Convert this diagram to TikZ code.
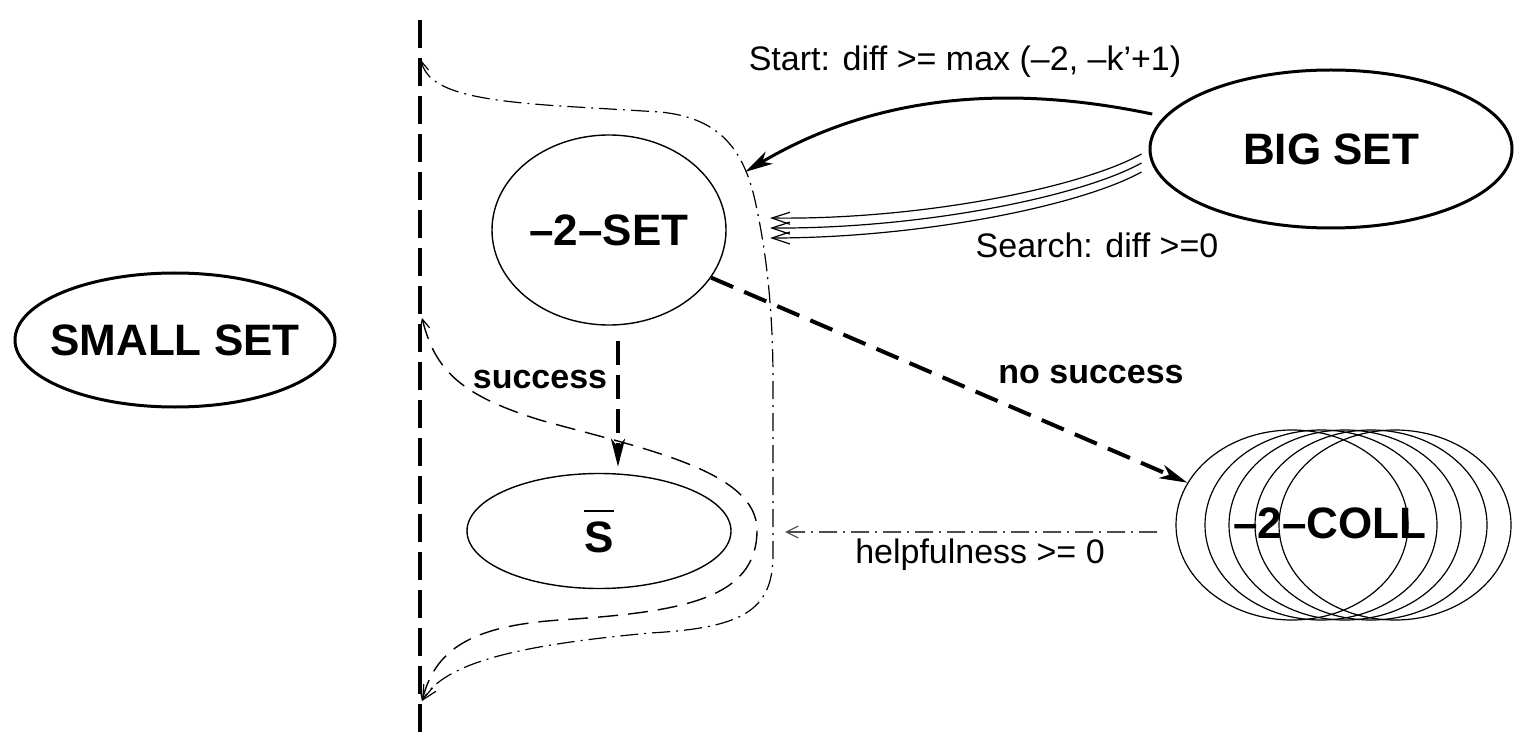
\documentclass[tikz,border=0pt]{standalone}
\usepackage{fontspec}
\setmainfont{Liberation Sans}
\usetikzlibrary{arrows.meta,shapes.geometric}
\newcommand\biglab{\fontsize{22pt}{26pt}\selectfont\bfseries}
\newcommand\smlab{\fontsize{17pt}{20pt}\selectfont}
\newcommand\sbarbox{\setbox0\hbox{S}\vbox{\hrule width\wd0 height 1.4pt\kern 4.5pt\box0}}
\begin{document}
\begin{tikzpicture}[x=0.5pt,y=-0.5pt,
  bigset/.style={ellipse, draw, line width=1.5pt, inner sep=0pt, font=\biglab},
  subset/.style={ellipse, draw, line width=0.7pt, inner sep=0pt, font=\biglab},
  collset/.style={ellipse, draw, line width=0.6pt, inner sep=0pt, minimum width=116pt, minimum height=95pt},
  lab/.style={font=\smlab, inner sep=0pt},
  boldlab/.style={font=\smlab\bfseries, inner sep=0pt},
  dashdot/.style={line width=0.6pt, dash pattern=on 9pt off 3pt on 1pt off 3pt},
  thindash/.style={line width=0.7pt, dash pattern=on 10pt off 5pt},
  thickdash/.style={line width=2pt, dash pattern=on 12pt off 6pt},
  openhead/.style={-{Straight Barb[length=6pt,width=6pt,line width=0.6pt]}},
  searchhead/.style={-{Straight Barb[length=9pt,width=6pt,line width=0.6pt]}},
  filledhead/.style={-{Stealth[length=14pt,width=7pt,inset=4pt]}}
]
\useasboundingbox (0,0) rectangle (1536,754);

% nodes
\node[bigset, minimum width=160pt, minimum height=67pt] (small) at (175,340) {\makebox[0pt]{SMALL SET}};
\node[bigset, minimum width=181pt, minimum height=79pt] (big) at (1331,149) {\makebox[0pt]{BIG SET}};
\node[subset, minimum width=117pt, minimum height=95pt] (set2) at (609,230) {\makebox[0pt]{–2–SET}};
\node[subset, minimum width=132pt, minimum height=57.5pt] (sbar) at (599,531) {\sbarbox};
\node[collset] (coll1) at (1292,525) {};
\node[collset] (coll2) at (1321,525) {};
\node[collset] (coll3) at (1345,525) {};
\node[collset] (coll4) at (1371,525) {};
\node[collset] (coll5) at (1395,525) {};
\node[font=\biglab, inner sep=0pt] (colltext) at (1330,523) {–2–COLL};

% free ends
\coordinate (vtop) at (420,20);
\coordinate (vbot) at (420,742);
\coordinate (stEnd) at (745,172);
\coordinate (s1) at (770,218);
\coordinate (s2) at (770,228);
\coordinate (s3) at (770,238);
\coordinate (hEnd) at (785,532);
\coordinate (rTop) at (421,60);
\coordinate (dTop) at (422,318);
\coordinate (rBot) at (422,701);

% vertical separator
\draw[line width=2pt, dash pattern=on 14pt off 5pt] (vtop) -- (vbot);

% dash-dot region boundary
\draw[dashdot, {Straight Barb[length=5pt,width=5pt,line width=0.6pt]}-{Straight Barb[length=7pt,width=7pt,line width=0.6pt]}]
  (rTop) .. controls (428,90) and (470,100) .. (560,106)
  -- (660,112) .. controls (722,118) and (746,152) .. (757,210)
  .. controls (768,262) and (773,320) .. (773,380)
  -- (773,555) .. controls (773,612) and (740,628) .. (650,633)
  .. controls (520,645) and (445,662) .. (rBot);

% dashed region boundary
\draw[thindash, {Straight Barb[length=5pt,width=5pt,line width=0.6pt]}-{Straight Barb[length=7pt,width=7pt,line width=0.6pt]}]
  (dTop) .. controls (435,370) and (460,395) .. (540,420)
  .. controls (640,448) and (757,470) .. (757,530)
  .. controls (757,600) and (680,612) .. (560,620)
  .. controls (470,626) and (435,650) .. (rBot);

% Start arrow
\draw[line width=1.5pt, filledhead, shorten <=6pt]
  (big.169) .. controls (1000,82) and (870,98) .. (stEnd);
\node[lab] (starttext) at (965,62) {Start: diff >= max (–2, –k’+1)};

% Search arrows (triple)
\draw[line width=0.6pt, searchhead] ([xshift=-3.5pt,yshift=-2.5pt]big.west) .. controls (1080,188) and (920,220) .. (s1);
\draw[line width=0.6pt, searchhead] ([xshift=-3.5pt,yshift=-7pt]big.west) .. controls (1080,197) and (920,229) .. (s2);
\draw[line width=0.6pt, searchhead] ([xshift=-3.5pt,yshift=-11.5pt]big.west) .. controls (1080,206) and (920,238) .. (s3);
\node[lab] (searchtext) at (1097,245) {Search: diff >=0};

% success
\draw[thickdash, dash pattern=on 12pt off 5pt, filledhead]
  ([xshift=4.5pt,yshift=-7.5pt]set2.south) -- ([xshift=9.5pt,yshift=3pt]sbar.north);
\node[boldlab] (succtext) at (540,380) {success};

% no success
\draw[thickdash, filledhead] (set2.-25) -- (coll1.158);
\node[boldlab] (nosucctext) at (1091,375) {no success};

% helpfulness
\draw[dashdot, black!70, openhead, shorten <=9pt] ([yshift=-3.5pt]coll1.west) -- (hEnd);
\node[lab] (helptext) at (980,555) {helpfulness >= 0};
\end{tikzpicture}
\end{document}
